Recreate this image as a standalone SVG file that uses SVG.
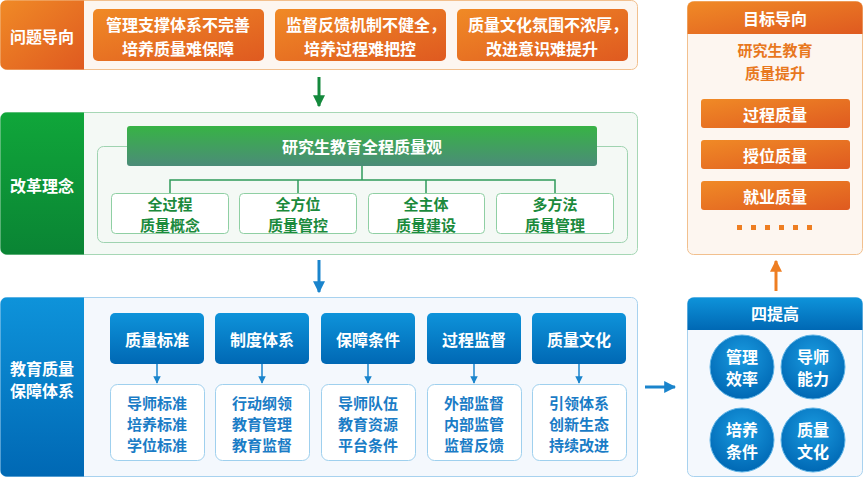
<svg xmlns="http://www.w3.org/2000/svg" width="864" height="478" viewBox="0 0 864 478">
<defs>
<linearGradient id="gOr" x1="0" y1="0" x2="1" y2="1"><stop offset="0" stop-color="#f08a26"/><stop offset="1" stop-color="#df5a20"/></linearGradient>
<linearGradient id="gGr" x1="0" y1="0" x2="0" y2="1"><stop offset="0" stop-color="#10a63a"/><stop offset="1" stop-color="#0a8434"/></linearGradient>
<linearGradient id="gGrBar" x1="0" y1="0" x2="0" y2="1"><stop offset="0" stop-color="#37b345"/><stop offset="1" stop-color="#4b8c78"/></linearGradient>
<linearGradient id="gBl" x1="0" y1="0" x2="0" y2="1"><stop offset="0" stop-color="#0e93da"/><stop offset="1" stop-color="#0068b4"/></linearGradient>
<radialGradient id="gCirc" cx="0.5" cy="0.35" r="0.65"><stop offset="0" stop-color="#1a9be0"/><stop offset="1" stop-color="#0068b4"/></radialGradient>
<marker id="mBl" viewBox="0 0 10 10" refX="9" refY="5" markerWidth="5" markerHeight="5" orient="auto"><path d="M0,0 L10,5 L0,10 z" fill="#1a84cc"/></marker>
<marker id="mGr" viewBox="0 0 10 10" refX="9" refY="5" markerWidth="4" markerHeight="4" orient="auto"><path d="M0,0 L10,5 L0,10 z" fill="#14893c"/></marker>
<marker id="mBb" viewBox="0 0 10 10" refX="9" refY="5" markerWidth="4" markerHeight="4" orient="auto"><path d="M0,0 L10,5 L0,10 z" fill="#1a84cc"/></marker>
<marker id="mOr" viewBox="0 0 10 10" refX="9" refY="5" markerWidth="4" markerHeight="4" orient="auto"><path d="M0,0 L10,5 L0,10 z" fill="#ee7e22"/></marker>
</defs>
<style>
text{font-family:"Noto Sans CJK SC","Noto Sans",sans-serif;font-weight:bold;text-anchor:middle;dominant-baseline:central}
.w{fill:#ffffff;font-size:16px}
.w15{fill:#ffffff;font-size:15px}
.g{fill:#1b8a3c;font-size:15px}
.b{fill:#1a7cc6;font-size:15px}
.o{fill:#e8781e;font-size:15px}
</style>
<rect width="864" height="478" fill="#ffffff"/>

<!-- Problem section -->
<g id="problem">
<rect x="0.5" y="0.5" width="637" height="69" rx="6" fill="#fdf6f0" stroke="#f2c08e"/>
<path d="M6,0.5 H84 V69.5 H6 A6,6 0 0 1 0.5,63.5 V6 A6,6 0 0 1 6,0.5 z" fill="url(#gOr)"/>
<text class="w" x="42" y="36">问题导向</text>
</g>
<g id="p1"><rect x="93" y="9" width="171" height="52" rx="5" fill="url(#gOr)"/><text class="w" x="178" y="24">管理支撑体系不完善</text><text class="w" x="178" y="48">培养质量难保障</text></g>
<g id="p2"><rect x="275" y="9" width="171" height="52" rx="5" fill="url(#gOr)"/><text class="w" x="366" y="24">监督反馈机制不健全，</text><text class="w" x="360" y="48">培养过程难把控</text></g>
<g id="p3"><rect x="457" y="9" width="171" height="52" rx="5" fill="url(#gOr)"/><text class="w" x="548" y="24">质量文化氛围不浓厚，</text><text class="w" x="542" y="48">改进意识难提升</text></g>

<!-- Reform section -->
<g id="reform">
<rect x="0.5" y="112.5" width="637" height="142" rx="6" fill="#f4f9f5" stroke="#a6d7b5"/>
<path d="M6,112.5 H84 V254.5 H6 A6,6 0 0 1 0.5,248.5 V118.5 A6,6 0 0 1 6,112.5 z" fill="url(#gGr)"/>
<text class="w" x="42" y="185">改革理念</text>
<rect x="97.5" y="146.5" width="530" height="96" rx="6" fill="none" stroke="#9fd3b0"/>
</g>
<g id="r0"><rect x="127" y="126" width="470" height="40" rx="3" fill="url(#gGrBar)"/><text class="w" x="362" y="146">研究生教育全程质量观</text></g>
<g id="r1"><rect x="111.5" y="193.5" width="117" height="40" rx="4" fill="#ffffff" stroke="#8fcfa3"/><text class="g" x="170" y="203">全过程</text><text class="g" x="170" y="224">质量概念</text></g>
<g id="r2"><rect x="239.5" y="193.5" width="117" height="40" rx="4" fill="#ffffff" stroke="#8fcfa3"/><text class="g" x="298" y="203">全方位</text><text class="g" x="298" y="224">质量管控</text></g>
<g id="r3"><rect x="368.5" y="193.5" width="116" height="40" rx="4" fill="#ffffff" stroke="#8fcfa3"/><text class="g" x="426" y="203">全主体</text><text class="g" x="426" y="224">质量建设</text></g>
<g id="r4"><rect x="496.5" y="193.5" width="117" height="40" rx="4" fill="#ffffff" stroke="#8fcfa3"/><text class="g" x="555" y="203">多方法</text><text class="g" x="555" y="224">质量管理</text></g>

<!-- Assurance section -->
<g id="assurance">
<rect x="0.5" y="297.5" width="637" height="179" rx="6" fill="#f4f8fd" stroke="#a8d2ef"/>
<path d="M6,297.5 H84 V476.5 H6 A6,6 0 0 1 0.5,470.5 V303.5 A6,6 0 0 1 6,297.5 z" fill="url(#gBl)"/>
<text class="w" x="42" y="368">教育质量</text>
<text class="w" x="42" y="390">保障体系</text>
</g>
<g id="a1"><rect x="110" y="313" width="94" height="51" rx="5" fill="url(#gBl)"/><text class="w" x="157" y="339">质量标准</text>
<rect x="110.5" y="384.5" width="94" height="76" rx="7" fill="#ffffff" stroke="#9fd0ee"/><text class="b" x="157" y="402">导师标准</text><text class="b" x="157" y="423">培养标准</text><text class="b" x="157" y="444">学位标准</text></g>
<g id="a2"><rect x="215" y="313" width="94" height="51" rx="5" fill="url(#gBl)"/><text class="w" x="262" y="339">制度体系</text>
<rect x="215.5" y="384.5" width="94" height="76" rx="7" fill="#ffffff" stroke="#9fd0ee"/><text class="b" x="262" y="402">行动纲领</text><text class="b" x="262" y="423">教育管理</text><text class="b" x="262" y="444">教育监督</text></g>
<g id="a3"><rect x="321" y="313" width="94" height="51" rx="5" fill="url(#gBl)"/><text class="w" x="368" y="339">保障条件</text>
<rect x="321.5" y="384.5" width="94" height="76" rx="7" fill="#ffffff" stroke="#9fd0ee"/><text class="b" x="368" y="402">导师队伍</text><text class="b" x="368" y="423">教育资源</text><text class="b" x="368" y="444">平台条件</text></g>
<g id="a4"><rect x="427" y="313" width="94" height="51" rx="5" fill="url(#gBl)"/><text class="w" x="474" y="339">过程监督</text>
<rect x="427.5" y="384.5" width="94" height="76" rx="7" fill="#ffffff" stroke="#9fd0ee"/><text class="b" x="474" y="402">外部监督</text><text class="b" x="474" y="423">内部监管</text><text class="b" x="474" y="444">监督反馈</text></g>
<g id="a5"><rect x="532" y="313" width="94" height="51" rx="5" fill="url(#gBl)"/><text class="w" x="579" y="339">质量文化</text>
<rect x="532.5" y="384.5" width="94" height="76" rx="7" fill="#ffffff" stroke="#9fd0ee"/><text class="b" x="579" y="402">引领体系</text><text class="b" x="579" y="423">创新生态</text><text class="b" x="579" y="444">持续改进</text></g>

<!-- Goal panel -->
<g id="goal">
<rect x="687.5" y="1.5" width="175" height="253" rx="6" fill="#fdf6f0" stroke="#f2c08e"/>
<path d="M693.5,1.5 H856.5 A6,6 0 0 1 862.5,7.5 V34 H687.5 V7.5 A6,6 0 0 1 693.5,1.5 z" fill="url(#gOr)"/>
<text class="w" x="775" y="18">目标导向</text>
<text class="o" x="775" y="49">研究生教育</text>
<text class="o" x="775" y="72">质量提升</text>
<rect x="701" y="99" width="149" height="29" rx="3" fill="url(#gOr)"/><text class="w" x="775" y="114">过程质量</text>
<rect x="701" y="140" width="149" height="29" rx="3" fill="url(#gOr)"/><text class="w" x="775" y="155">授位质量</text>
<rect x="701" y="181" width="149" height="29" rx="3" fill="url(#gOr)"/><text class="w" x="775" y="196">就业质量</text>
<g fill="#ee7e22"><rect x="737" y="225" width="5" height="5"/><rect x="751" y="225" width="5" height="5"/><rect x="765" y="225" width="5" height="5"/><rect x="779" y="225" width="5" height="5"/><rect x="793" y="225" width="5" height="5"/><rect x="807" y="225" width="5" height="5"/></g>
</g>

<!-- Four improvements -->
<g id="four">
<rect x="687.5" y="297.5" width="175" height="179" rx="6" fill="#f4f8fd" stroke="#a8d2ef"/>
<path d="M693.5,297.5 H856.5 A6,6 0 0 1 862.5,303.5 V330 H687.5 V303.5 A6,6 0 0 1 693.5,297.5 z" fill="url(#gBl)"/>
<text class="w" x="775" y="313">四提高</text>
</g>
<g id="c1"><circle cx="742" cy="367" r="32" fill="url(#gCirc)" stroke="#5fb4e6" stroke-width="1"/><text class="w" x="742" y="356">管理</text><text class="w" x="742" y="378">效率</text></g>
<g id="c2"><circle cx="813" cy="367" r="32" fill="url(#gCirc)" stroke="#5fb4e6" stroke-width="1"/><text class="w" x="813" y="356">导师</text><text class="w" x="813" y="378">能力</text></g>
<g id="c3"><circle cx="742" cy="440" r="32" fill="url(#gCirc)" stroke="#5fb4e6" stroke-width="1"/><text class="w" x="742" y="429">培养</text><text class="w" x="742" y="451">条件</text></g>
<g id="c4"><circle cx="813" cy="440" r="32" fill="url(#gCirc)" stroke="#5fb4e6" stroke-width="1"/><text class="w" x="813" y="429">质量</text><text class="w" x="813" y="451">文化</text></g>

<!-- Connectors -->
<g id="connectors" fill="none">
<line x1="319" y1="77" x2="319" y2="106" stroke="#14893c" stroke-width="3" marker-end="url(#mGr)"/>
<line x1="319" y1="260" x2="319" y2="292" stroke="#1a84cc" stroke-width="3" marker-end="url(#mBb)"/>
<line x1="645" y1="387" x2="675" y2="387" stroke="#1a84cc" stroke-width="3" marker-end="url(#mBb)"/>
<line x1="776" y1="291" x2="776" y2="261" stroke="#ee7e22" stroke-width="3" marker-end="url(#mOr)"/>
<g stroke="#2f9a5a" stroke-width="1.5">
<line x1="362" y1="166" x2="362" y2="180"/>
<polyline points="170,193 170,180 555,180 555,193"/>
<line x1="298" y1="180" x2="298" y2="193"/>
<line x1="426" y1="180" x2="426" y2="193"/>
</g>
<g stroke="#1a84cc" stroke-width="1.5">
<line x1="157" y1="364" x2="157" y2="383" marker-end="url(#mBl)"/>
<line x1="262" y1="364" x2="262" y2="383" marker-end="url(#mBl)"/>
<line x1="368" y1="364" x2="368" y2="383" marker-end="url(#mBl)"/>
<line x1="474" y1="364" x2="474" y2="383" marker-end="url(#mBl)"/>
<line x1="579" y1="364" x2="579" y2="383" marker-end="url(#mBl)"/>
</g>
</g>
</svg>
